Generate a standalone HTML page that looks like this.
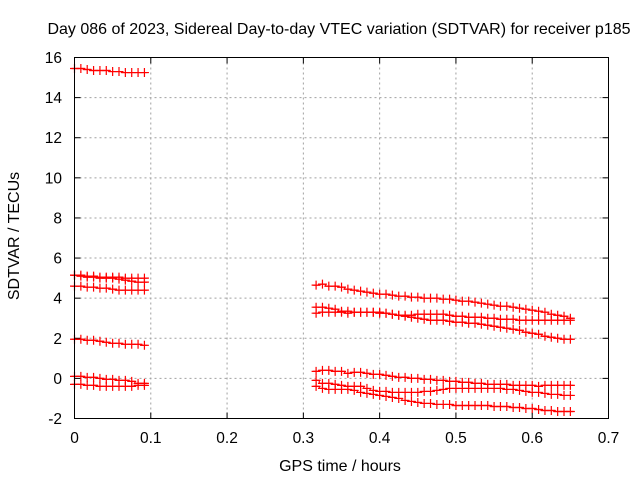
<!DOCTYPE html>
<html><head><meta charset="utf-8"><style>
html,body{margin:0;padding:0;background:#fff;width:640px;height:480px;overflow:hidden}
svg{display:block;font-family:"Liberation Sans",Arial,sans-serif}
</style></head><body>
<svg id="chart" width="640" height="480">
<text x="339" y="34" font-size="16" text-anchor="middle">Day 086 of 2023, Sidereal Day-to-day VTEC variation (SDTVAR) for receiver p185</text>
<g id="grid"></g>
<g id="ticks"></g>
<g id="series"></g>
<rect x="74.5" y="57.5" width="534" height="361" fill="none" stroke="#000" stroke-width="1"/>
<text x="340" y="471" font-size="16" text-anchor="middle">GPS time / hours</text>
<text x="19" y="236" font-size="16" text-anchor="middle" transform="rotate(-90 19 236)">SDTVAR / TECUs</text>
</svg>
<script>
const xTicks=[0,0.1,0.2,0.3,0.4,0.5,0.6,0.7];
const xTickLabels=["0","0.1","0.2","0.3","0.4","0.5","0.6","0.7"];
const yTicks=[-2,0,2,4,6,8,10,12,14,16];
const yTickLabels=["-2","0","2","4","6","8","10","12","14","16"];
const seg1Start=0, seg2Start=0.3167, stepH=0.008333;
const seg1A=[15.45,15.45,15.4,15.35,15.35,15.35,15.3,15.3,15.25,15.25,15.25,15.25];
const seg1B=[5.15,5.15,5.1,5.1,5.05,5.05,5.05,5.05,5.0,5.0,5.0,5.0];
const seg1C=[5.15,5.1,5.05,5.05,5.0,5.0,5.0,4.95,4.9,4.85,4.8,4.8];
const seg1D=[4.6,4.6,4.55,4.55,4.5,4.5,4.45,4.4,4.4,4.4,4.4,4.4];
const seg1E=[1.95,1.95,1.9,1.9,1.85,1.8,1.75,1.75,1.7,1.7,1.7,1.65];
const seg1F=[0.1,0.1,0.05,0.05,0.0,-0.05,-0.05,-0.1,-0.1,-0.15,-0.25,-0.25];
const seg1G=[-0.3,-0.3,-0.35,-0.35,-0.4,-0.4,-0.4,-0.4,-0.4,-0.4,-0.35,-0.35];
const seg2A=[4.65,4.7,4.6,4.6,4.55,4.45,4.4,4.35,4.3,4.25,4.2,4.2,4.15,4.1,4.1,4.05,4.05,4.0,4.0,4.0,3.95,3.95,3.9,3.85,3.85,3.8,3.75,3.7,3.65,3.6,3.6,3.55,3.5,3.45,3.4,3.35,3.3,3.2,3.15,3.1,3.0];
const seg2B=[3.55,3.55,3.5,3.45,3.35,3.35,3.3,3.3,3.3,3.3,3.25,3.25,3.2,3.15,3.15,3.15,3.2,3.2,3.2,3.2,3.2,3.15,3.1,3.1,3.05,3.05,3.05,3.0,3.0,2.95,2.95,2.95,2.9,2.9,2.9,2.9,2.9,2.9,2.9,2.9,2.9];
const seg2C=[3.25,3.3,3.3,3.3,3.3,3.25,3.3,3.3,3.3,3.3,3.3,3.25,3.2,3.15,3.1,3.05,3.0,2.95,2.9,2.9,2.9,2.85,2.8,2.8,2.75,2.75,2.7,2.65,2.6,2.55,2.5,2.45,2.4,2.3,2.25,2.2,2.1,2.05,2.0,1.95,1.95];
const seg2D=[0.35,0.4,0.4,0.35,0.35,0.25,0.3,0.3,0.25,0.2,0.2,0.15,0.1,0.05,0.05,0.0,0.0,-0.05,-0.05,-0.1,-0.1,-0.15,-0.15,-0.2,-0.2,-0.25,-0.25,-0.3,-0.3,-0.3,-0.3,-0.35,-0.35,-0.35,-0.35,-0.4,-0.35,-0.35,-0.35,-0.35,-0.35];
const seg2E=[-0.1,-0.25,-0.25,-0.3,-0.35,-0.4,-0.4,-0.4,-0.5,-0.6,-0.65,-0.65,-0.7,-0.7,-0.7,-0.7,-0.7,-0.65,-0.65,-0.6,-0.55,-0.5,-0.5,-0.5,-0.5,-0.5,-0.5,-0.5,-0.5,-0.5,-0.55,-0.55,-0.6,-0.65,-0.7,-0.7,-0.75,-0.8,-0.8,-0.85,-0.85];
const seg2F=[-0.4,-0.5,-0.55,-0.55,-0.55,-0.55,-0.6,-0.7,-0.75,-0.8,-0.85,-0.9,-0.95,-1.0,-1.1,-1.15,-1.2,-1.25,-1.25,-1.3,-1.3,-1.3,-1.35,-1.35,-1.35,-1.35,-1.35,-1.35,-1.4,-1.4,-1.4,-1.45,-1.45,-1.5,-1.5,-1.55,-1.6,-1.6,-1.65,-1.65,-1.65];

const NS="http://www.w3.org/2000/svg";
const X0=74.5,X1=608.5,Y0=418.5,Y1=57.5;
const xs=v=>X0+(v-0)/(0.7)*(X1-X0);
const ys=v=>Y0-(v+2)/18*(Y0-Y1);
function mk(tag,attrs,parent){const e=document.createElementNS(NS,tag);for(const k in attrs)e.setAttribute(k,attrs[k]);parent.appendChild(e);return e;}
const grid=document.getElementById('grid'),ticks=document.getElementById('ticks'),ser=document.getElementById('series');
xTicks.forEach((t,i)=>{
  const x=xs(t);
  if(i>0&&i<xTicks.length-1){const g=mk('line',{x1:x,x2:x,y1:Y1,y2:Y0,stroke:'#a0a0a0','stroke-dasharray':'2,3'},grid);
  
  }
  mk('line',{x1:x,x2:x,y1:Y0,y2:Y0-6,stroke:'#000'},ticks);
  mk('line',{x1:x,x2:x,y1:Y1,y2:Y1+6,stroke:'#000'},ticks);
  const l=mk('text',{x:x,y:443,'font-size':15.5,'text-anchor':'middle'},ticks);l.textContent=xTickLabels[i];
  
  
});
yTicks.forEach((t,i)=>{
  const y=ys(t);
  if(i>0&&i<yTicks.length-1){const g=mk('line',{x1:X0,x2:X1,y1:y,y2:y,stroke:'#a0a0a0','stroke-dasharray':'2,3'},grid);
  
  }
  mk('line',{x1:X0,x2:X0+6,y1:y,y2:y,stroke:'#000'},ticks);
  mk('line',{x1:X1,x2:X1-6,y1:y,y2:y,stroke:'#000'},ticks);
  const l=mk('text',{x:62,y:y+5.5,'font-size':15.5,'text-anchor':'end'},ticks);l.textContent=yTickLabels[i];
  
  
});
function draw(vals,start,name){
  const pts=vals.map((v,i)=>[xs(start+i*stepH),ys(v)]);
  let d='';
  pts.forEach((p,i)=>{
    const xl=i>0?(pts[i-1][0]+p[0])/2:p[0]-3;
    const xr=i<pts.length-1?(pts[i+1][0]+p[0])/2:p[0]+3;
    d+=(i===0?'M':'L')+xl+','+p[1]+'L'+xr+','+p[1];
  });
  const path=mk('path',{d:d,fill:'none',stroke:'#f00','stroke-width':1.2},ser);
  
  
  pts.forEach(p=>{
    const m=mk('path',{d:`M${p[0]-4.5},${p[1]}h9M${p[0]},${p[1]-4.5}v9`,stroke:'#f00','stroke-width':1.2},ser);
    
    
  });
}
[[seg1A,'a'],[seg1B,'b'],[seg1C,'c'],[seg1D,'d'],[seg1E,'e'],[seg1F,'f'],[seg1G,'g']].forEach(s=>draw(s[0],seg1Start,'series-1'+s[1]));
[[seg2A,'a'],[seg2B,'b'],[seg2C,'c'],[seg2D,'d'],[seg2E,'e'],[seg2F,'f']].forEach(s=>draw(s[0],seg2Start,'series-2'+s[1]));
</script>
</body></html>
